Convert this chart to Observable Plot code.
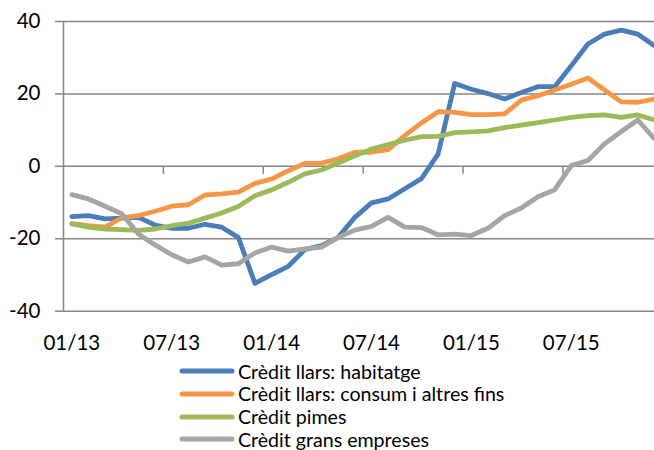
<!DOCTYPE html>
<html>
<head>
<meta charset="utf-8">
<script src="https://cdn.jsdelivr.net/npm/d3@7"></script>
<script src="https://cdn.jsdelivr.net/npm/@observablehq/plot@0.6"></script>
<style>
  html, body { margin: 0; padding: 0; background: #fff; }
  body { width: 654px; height: 450px; overflow: hidden; font-family: Lato, "Liberation Sans", sans-serif; }
  #chart svg { display: block; }
  #legend { padding-left: 179px; }
  .row { display: flex; align-items: center; height: 22.7px; }
  .row svg { display: block; margin-right: 3px; }
  .row span { font-size: 19.6px; color: #000; white-space: nowrap; line-height: 1; }
</style>
</head>
<body>
<div id="chart"></div>
<div id="legend"></div>
<script>
// Months (categories)
const months = [
  "01/13","02/13","03/13","04/13","05/13","06/13","07/13","08/13","09/13","10/13","11/13","12/13",
  "01/14","02/14","03/14","04/14","05/14","06/14","07/14","08/14","09/14","10/14","11/14","12/14",
  "01/15","02/15","03/15","04/15","05/15","06/15","07/15","08/15","09/15","10/15","11/15","12/15"
];
// Series names and colours
const seriesNames = [
  "Crèdit llars: habitatge",
  "Crèdit llars: consum i altres fins",
  "Crèdit pimes",
  "Crèdit grans empreses"
];
const seriesColors = ["#4A7EBB", "#F79646", "#9BBB59", "#A5A5A5"];
// Series values (year-on-year %)
const habitatge = [-13.9,-13.6,-14.5,-14.3,-14.1,-16.2,-17.1,-17.1,-16.0,-16.8,-19.6,-32.3,
  -29.9,-27.6,-23.0,-21.9,-19.6,-14.1,-10.1,-9.0,-6.2,-3.4,3.4,22.9,
  21.3,20.1,18.6,20.4,22.0,22.0,27.8,33.8,36.5,37.6,36.5,33.3];
const consum = [-15.8,-16.4,-16.8,-14.2,-13.6,-12.4,-11.0,-10.6,-7.9,-7.6,-7.1,-4.7,
  -3.5,-1.2,0.8,0.9,2.1,3.9,3.9,4.6,8.5,12.0,15.1,14.9,
  14.3,14.3,14.5,18.3,19.5,21.1,22.7,24.4,21.1,17.8,17.7,18.6];
const pimes = [-15.9,-16.8,-17.3,-17.5,-17.7,-17.3,-16.4,-15.7,-14.3,-12.9,-11.1,-8.1,
  -6.5,-4.4,-2.1,-1.0,0.9,2.9,4.8,6.0,7.2,8.2,8.3,9.3,
  9.5,9.8,10.7,11.4,12.1,12.8,13.5,14.0,14.2,13.5,14.2,12.8];
const gransEmpreses = [-7.8,-9.0,-11.0,-13.1,-18.7,-21.7,-24.4,-26.4,-25.0,-27.3,-26.9,-23.9,
  -22.3,-23.4,-22.8,-22.3,-19.6,-17.6,-16.6,-14.1,-16.8,-16.9,-18.9,-18.7,
  -19.1,-17.1,-13.6,-11.5,-8.4,-6.5,0.2,1.6,6.2,9.6,12.8,7.6];
// Axis tick labels
const xTickLabels = ["01/13","07/13","01/14","07/14","01/15","07/15"];
const yTicks = [-40, -20, 0, 20, 40];

const seriesValues = [habitatge, consum, pimes, gransEmpreses];
const data = [];
seriesNames.forEach((s, k) => {
  seriesValues[k].forEach((v, i) => data.push({s, i, v}));
});
const xTickIdx = xTickLabels.map(l => months.indexOf(l));
const xDomain = [-0.5, months.length - 1];
// tick marks sit between categories, one interval before each labelled month
const tickBreaks = xTickIdx.map(i => i - 0.5).filter(v => v > xDomain[0]);

const gridColor = "#868686";

const chart = Plot.plot({
  width: 654,
  height: 360,
  marginLeft: 63,
  marginRight: 0,
  marginTop: 21,
  marginBottom: 49.3,
  style: {fontFamily: "Lato, 'Liberation Sans', sans-serif", fontSize: "20.5px", color: "#000", background: "#fff", overflow: "hidden"},
  x: {domain: xDomain, axis: null},
  y: {domain: [-40, 40], axis: null},
  color: {domain: seriesNames, range: seriesColors},
  marks: [
    Plot.gridY(yTicks, {stroke: gridColor, strokeOpacity: 1, strokeWidth: 1.5}),
    Plot.ruleX([xDomain[0]], {stroke: gridColor, strokeWidth: 1.5}),
    Plot.ruleX(tickBreaks, {y1: 0, y2: 0, insetBottom: -8, stroke: gridColor, strokeWidth: 1.5}),
    Plot.axisY(yTicks, {label: null, tickSize: 8, tickPadding: 15, tickFormat: d => String(d), stroke: gridColor, strokeWidth: 1.5, fill: "#000", fontSize: 20.5}),
    Plot.axisX(xTickIdx, {label: null, anchor: "bottom", tickSize: 0, tickPadding: 24, tickFormat: i => months[i], fill: "#000", fontSize: 20.5}),
    Plot.line(data, {x: "i", y: "v", z: "s", stroke: "s", strokeWidth: 4.8, strokeLinejoin: "round", strokeLinecap: "round"})
  ]
});
document.getElementById("chart").appendChild(chart);

const legend = document.getElementById("legend");
seriesNames.forEach((name, k) => {
  const row = document.createElement("div");
  row.className = "row";
  row.innerHTML = `<svg width="56" height="10"><line x1="3" x2="53" y1="5" y2="5" stroke="${seriesColors[k]}" stroke-width="5" stroke-linecap="round"/></svg><span>${name}</span>`;
  legend.appendChild(row);
});
</script>
</body>
</html>
